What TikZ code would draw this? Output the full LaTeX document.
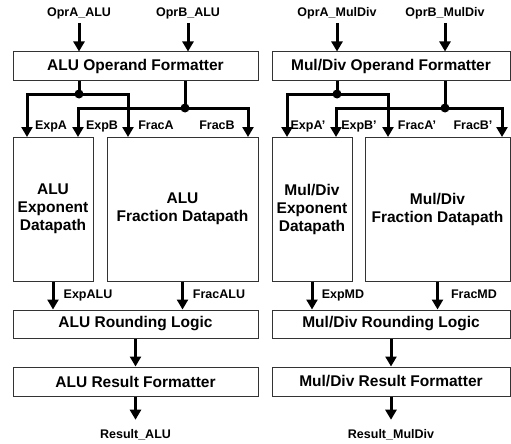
\documentclass[tikz,border=0pt]{standalone}
\usepackage{fontspec}
\setmainfont{Liberation Sans}
\usetikzlibrary{arrows.meta}
\begin{document}
\begin{tikzpicture}[x=1pt,y=-1pt,
 blk/.style={draw=black!80, line width=1pt, fill=white, inner sep=0pt,
   font=\fontsize{15.5}{18}\selectfont\bfseries, align=center},
 lbl/.style={font=\fontsize{12.5}{14}\selectfont\bfseries, inner sep=0pt, anchor=base},
 bus/.style={line width=3pt},
 arr/.style={line width=3pt, -{Triangle[width=11pt,length=10pt]}},
 dot/.style={circle, fill=black, inner sep=0pt, minimum size=9pt}]
\useasboundingbox (0,0) rectangle (511,444);

% ---------- left (ALU) ----------
\node[blk, minimum width=245pt, minimum height=28pt] (opfL) at (135.5,66) {ALU Operand Formatter};
\node[blk, minimum width=80pt, minimum height=144pt] (expL) at (53,209) {ALU\\Exponent\\Datapath};
\node[blk, minimum width=151pt, minimum height=144pt] (fracL) at (182.5,209) {ALU\\Fraction Datapath};
\node[blk, minimum width=245pt, minimum height=28pt] (rndL) at (135.5,324) {ALU Rounding Logic};
\node[blk, minimum width=245pt, minimum height=29pt] (resL) at (135.5,381.5) {ALU Result Formatter};

\node[lbl] (inAL) at (79,17) {OprA\_ALU};
\node[lbl] (inBL) at (188,17) {OprB\_ALU};
\node[lbl] (outL) at (135.5,438) {Result\_ALU};

\draw[arr, shorten <=3pt] (inAL.south) -- (inAL.south |- opfL.north);
\draw[arr, shorten <=3pt] (inBL.south) -- (inBL.south |- opfL.north);

\coordinate (jAL) at (79,94);
\coordinate (jBL) at (185,108);
\coordinate (tEAL) at (27,137);
\coordinate (tFAL) at (128,137);
\coordinate (tEBL) at (78,137);
\coordinate (tFBL) at (248,137);
\draw[bus] (opfL.south -| jAL) -- (jAL);
\draw[bus] (opfL.south -| jBL) -- (jBL);
\draw[arr] (jAL) -| (tEAL);
\draw[arr] (jAL) -| (tFAL);
\draw[arr] (jBL) -| (tEBL);
\draw[arr] (jBL) -| (tFBL);
\node[dot] (dAL) at (jAL) {};
\node[dot] (dBL) at (jBL) {};

\node[lbl] (lEAL) at (51,129) {ExpA};
\node[lbl] (lEBL) at (102,129) {ExpB};
\node[lbl] (lFAL) at (156,129) {FracA};
\node[lbl] (lFBL) at (217,129) {FracB};

\draw[arr] (expL.south) -- (expL.south |- rndL.north);
\draw[arr] (fracL.south) -- (fracL.south |- rndL.north);
\node[lbl] (lExL) at (88,298) {ExpALU};
\node[lbl] (lFrL) at (219,298) {FracALU};

\draw[arr] (rndL.south) -- (resL.north);
\draw[arr, shorten >=9pt] (resL.south) -- (outL.north);

% ---------- right (Mul/Div) ----------
\node[blk, minimum width=238pt, minimum height=28pt] (opfR) at (391,66) {Mul/Div Operand Formatter};
\node[blk, minimum width=80pt, minimum height=144pt] (expR) at (312,209) {Mul/Div\\Exponent\\Datapath};
\node[blk, minimum width=145pt, minimum height=144pt] (fracR) at (437.5,209) {Mul/Div\\Fraction Datapath};
\node[blk, minimum width=238pt, minimum height=28pt] (rndR) at (391,324) {Mul/Div Rounding Logic};
\node[blk, minimum width=238pt, minimum height=29pt] (resR) at (391,381.5) {Mul/Div Result Formatter};

\node[lbl] (inAR) at (337,17) {OprA\_MulDiv};
\node[lbl] (inBR) at (445,17) {OprB\_MulDiv};
\node[lbl] (outR) at (391,438) {Result\_MulDiv};

\draw[arr, shorten <=3pt] (inAR.south) -- (inAR.south |- opfR.north);
\draw[arr, shorten <=3pt] (inBR.south) -- (inBR.south |- opfR.north);

\coordinate (jAR) at (337,94);
\coordinate (jBR) at (445,108);
\coordinate (tEAR) at (287,137);
\coordinate (tFAR) at (388,137);
\coordinate (tEBR) at (336,137);
\coordinate (tFBR) at (502,137);
\draw[bus] (opfR.south -| jAR) -- (jAR);
\draw[bus] (opfR.south -| jBR) -- (jBR);
\draw[arr] (jAR) -| (tEAR);
\draw[arr] (jAR) -| (tFAR);
\draw[arr] (jBR) -| (tEBR);
\draw[arr] (jBR) -| (tFBR);
\node[dot] (dAR) at (jAR) {};
\node[dot] (dBR) at (jBR) {};

\node[lbl] (lEAR) at (308,129) {ExpA'};
\node[lbl] (lEBR) at (359,129) {ExpB'};
\node[lbl] (lFAR) at (417,129) {FracA'};
\node[lbl] (lFBR) at (473,129) {FracB'};

\draw[arr] (expR.south) -- (expR.south |- rndR.north);
\draw[arr] (fracR.south) -- (fracR.south |- rndR.north);
\node[lbl] (lExR) at (343,298) {ExpMD};
\node[lbl] (lFrR) at (474,298) {FracMD};

\draw[arr] (rndR.south) -- (resR.north);
\draw[arr, shorten >=9pt] (resR.south) -- (outR.north);
\end{tikzpicture}
\end{document}
